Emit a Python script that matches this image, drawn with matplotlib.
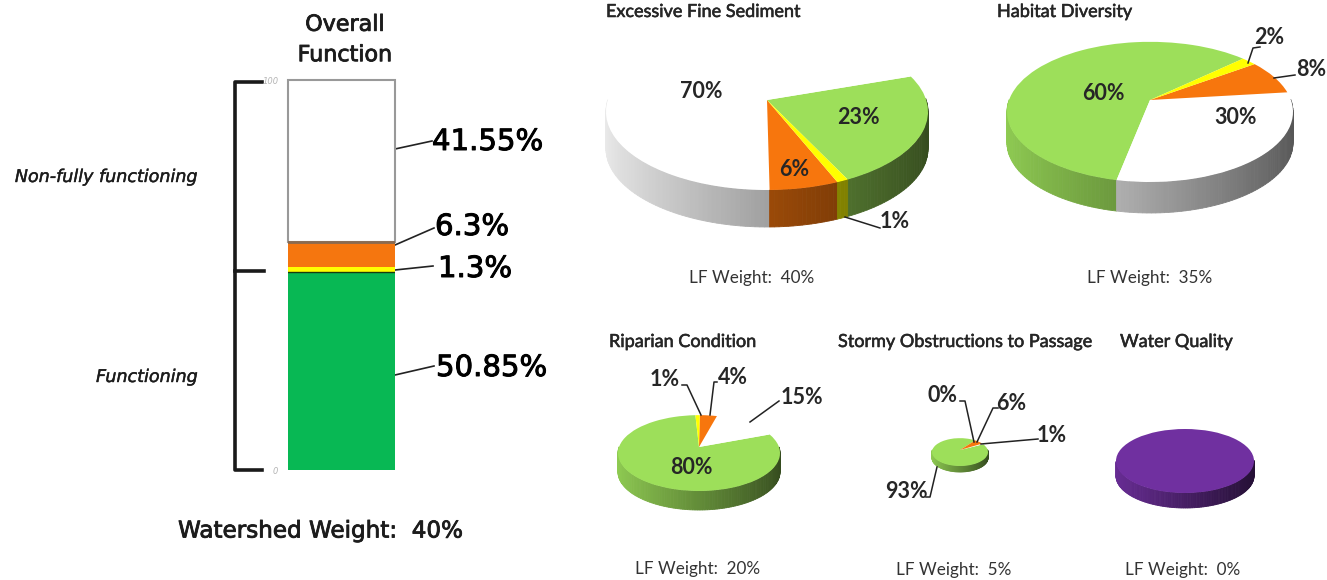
import numpy as np
import matplotlib
matplotlib.use('Agg')
import matplotlib.pyplot as plt
import matplotlib.patheffects as pe
from matplotlib.colors import to_rgb
from matplotlib.transforms import Transform

W, H = 1327, 580

# overall function bar
bar_values = [50.85, 1.3, 6.3, 41.55]
bar_colors = ['#08b854', '#ffff00', '#f5760f', '#ffffff']
bar_labels = ['50.85%', '1.3%', '6.3%', '41.55%']

# pies, slices are always green, white, orange, yellow
pie_colors = ['#9ddf5a', '#ffffff', '#f7760d', '#ffff00']
sediment = [23, 70, 6, 1]
habitat = [60, 30, 8, 2]
riparian = [80, 15, 4, 1]
obstructions = [93, 1, 6, 0]
water = [100]
water_colors = ['#7030a0']
weights = ['40%', '35%', '20%', '5%', '0%']
titles = ['Excessive Fine Sediment', 'Habitat Diversity', 'Riparian Condition',
          'Stormy Obstructions to Passage', 'Water Quality']


class Tilt(Transform):
    # perspective from the unit disc to picture pixels
    input_dims = 2
    output_dims = 2

    def __init__(self, ax_, ay_, rx, front, k):
        super().__init__()
        self.ax_, self.ay_, self.k = ax_, ay_, k
        self.sx = rx * np.sqrt(1 - k * k)
        self.sy = front * (1 - k)

    def transform_non_affine(self, xy):
        xy = np.asarray(xy, dtype=float)
        d = 1 + self.k * xy[:, 1]
        return np.c_[self.ax_ + self.sx * xy[:, 0] / d, self.ay_ - self.sy * xy[:, 1] / d]


def pie3d(ax, values, colors, start, apex, rx, front, k, depth):
    tilt = Tilt(apex[0], apex[1], rx, front, k)
    wedges, _ = ax.pie(values, colors=colors, startangle=start)
    for w in wedges:
        w.set_transform(tilt + ax.transData)
        w.set_zorder(3)
    v = np.asarray(values, dtype=float)
    edges = start + np.r_[0, np.cumsum(v)] / v.sum() * 360
    for i, c in enumerate(colors):
        if v[i] == 0:
            continue
        n = int((edges[i + 1] - edges[i]) / 1.5) + 2
        th = np.radians(np.linspace(edges[i], edges[i + 1], n))
        p = tilt.transform_non_affine(np.c_[np.cos(th), np.sin(th)])
        for j in range(n - 1):
            # back of the wall is hidden anyway
            if np.sin(th[j]) > 0 and np.sin(th[j + 1]) > 0:
                continue
            shade = 0.92 - 0.58 * (np.cos((th[j] + th[j + 1]) / 2) + 1) / 2
            col = tuple(np.array(to_rgb(c)) * shade)
            ax.fill([p[j, 0], p[j + 1, 0], p[j + 1, 0], p[j, 0]],
                    [p[j, 1], p[j + 1, 1], p[j + 1, 1] + depth, p[j, 1] + depth],
                    color=col, lw=0.6, zorder=2)


fig = plt.figure(figsize=(W / 100, H / 100), dpi=100)
ax = fig.add_axes([0, 0, 1, 1])

pie3d(ax, sediment, pie_colors, -64, (767, 100), 161, 90, 0.15, 37)
pie3d(ax, habitat, pie_colors, 42.6, (1150, 100), 143, 82, 0.17, 31)
pie3d(ax, riparian, pie_colors, 93, (699, 447), 81, 44, 0.16, 19)
pie3d(ax, obstructions, pie_colors, 52, (960, 450), 28, 16, 0.15, 6)
pie3d(ax, water, water_colors, 0, (1185, 461), 69, 32, 0.0, 15)

ax.set_aspect('auto')
ax.set_xlim(0, W)
ax.set_ylim(H, 0)

# stacked bar on its own 0-100 axis
bx = fig.add_axes([288 / W, 1 - 470 / H, 107 / W, 390 / H])
bottom = 0
for val, col in zip(bar_values, bar_colors):
    edge = '#999999' if col == '#ffffff' else 'none'
    bx.bar(0, val, bottom=bottom, width=1, color=col, edgecolor=edge, linewidth=1.5,
           clip_on=False)
    bottom += val
bx.axhline(bar_values[0], color='#1a3a10', lw=1)
bx.axhline(sum(bar_values[:3]), color='#8a6a50', lw=2)
bx.set_xlim(-0.5, 0.5)
bx.set_ylim(0, 100)
bx.set_xticks([])
bx.set_yticks([0, 100])
bx.tick_params(axis='y', length=0, pad=7)
for t in bx.get_yticklabels():
    t.set_fontsize(6)
    t.set_fontstyle('italic')
    t.set_color('#b5b5b5')
for s in bx.spines.values():
    s.set_visible(False)

# bracket
ax.plot([262, 235, 235, 262], [82, 82, 470, 470], color='#1a1a1a', lw=2.6)
ax.plot([235, 264], [271, 271], color='#1a1a1a', lw=2.6)

dark = '#1c1c1c'
heavy = [pe.withStroke(linewidth=0.6, foreground=dark)]
light = [pe.withStroke(linewidth=0.3, foreground=dark)]
ax.text(345, 40, 'Overall\nFunction', ha='center', va='center', fontsize=16,
        color=dark, linespacing=1.65, family='DejaVu Sans', path_effects=heavy)
ax.text(198, 177, 'Non-fully functioning', ha='right', va='center', fontsize=12.6,
        style='italic', color=dark, path_effects=light)
ax.text(198, 377, 'Functioning', ha='right', va='center', fontsize=12.6,
        style='italic', color=dark, path_effects=light)
ax.text(320, 531, 'Watershed Weight:  40%', ha='center', va='center', fontsize=16.6,
        color=dark, path_effects=heavy)

bar_label_pos = [(436, 368), (438, 269), (435, 227), (432, 142)]
for lab, (x, y) in zip(bar_labels, bar_label_pos):
    ax.text(x, y, lab, ha='left', va='center', fontsize=21, color='black',
            path_effects=[pe.withStroke(linewidth=0.7, foreground='black')])
for xs, ys in [([395, 432], [149, 141]), ([395, 434], [245, 228]),
               ([395, 433], [270, 266]), ([395, 434], [375, 366])]:
    ax.plot(xs, ys, color='#222222', lw=1.2)

# right hand side text
font = 'Lato'
thin = [pe.withStroke(linewidth=0.4, foreground='#262626')]
title_pos = [(606, 12), (997, 12), (609, 342), (838, 342), (1120, 342)]
for name, (x, y) in zip(titles, title_pos):
    ax.text(x, y, name, ha='left', va='center', fontsize=13.0,
            color='#262626', family=font, path_effects=thin)
weight_pos = [(752, 278), (1150, 278), (698, 569), (954, 570), (1183, 570)]
for wt, (x, y) in zip(weights, weight_pos):
    ax.text(x, y, 'LF Weight:  ' + wt, ha='center', va='center', fontsize=12.3,
            color='#333333', family=font)

pct_labels = [
    ('70%', 701, 91), ('23%', 858, 118), ('6%', 794, 170), ('1%', 895, 222),
    ('60%', 1103, 94), ('30%', 1236, 118), ('2%', 1269, 38), ('8%', 1311, 70),
    ('1%', 665, 380), ('4%', 733, 377), ('15%', 802, 397), ('80%', 691, 468),
    ('0%', 942, 396), ('6%', 1011, 403), ('1%', 1052, 436), ('93%', 906, 491),
]
for lab, x, y in pct_labels:
    ax.text(x, y, lab, ha='center', va='center', fontsize=15.5, fontweight='bold',
            color='#262626', family=font, zorder=5)

leaders = [
    ([845, 880], [217, 228]),
    ([1248, 1253, 1260], [63, 48, 47]),
    ([1274, 1295], [78, 75]),
    ([701, 687, 682], [415, 385, 385]),
    ([710, 714, 717], [415, 382, 382]),
    ([750, 779], [422, 401]),
    ([974, 965, 960], [442, 401, 401]),
    ([977, 993, 998], [442, 408, 408]),
    ([981, 1038], [444, 439]),
    ([937, 930, 926], [467, 497, 497]),
]
for xs, ys in leaders:
    ax.plot(xs, ys, color='#222222', lw=1.1, zorder=4)

fig.savefig('out.png', dpi=100)
